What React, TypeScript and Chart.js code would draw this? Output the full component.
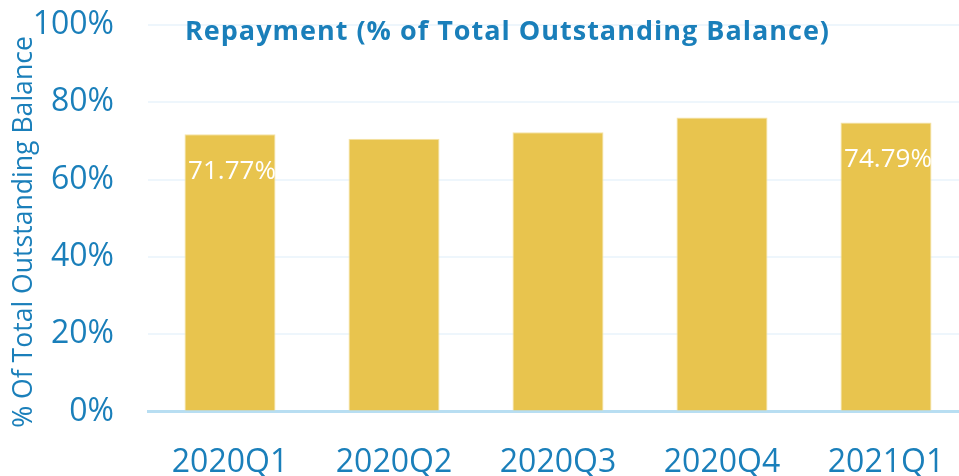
import React, { useEffect, useRef } from 'react';
import { Chart, registerables } from 'chart.js';
Chart.register(...registerables);

const categories = ['2020Q1', '2020Q2', '2020Q3', '2020Q4', '2021Q1'];
const repayment = [71.77, 70.55, 72.29, 76.07, 74.79];
const showValueLabel = [true, false, false, false, true];
const yTickStep = 20;
const yMin = 0;
const yMax = 100;
const chartTitle = 'Repayment (% of Total Outstanding Balance)';
const yAxisTitle = '% Of Total Outstanding Balance';

const BLUE = '#1a7fba';
const FONT = '"Open Sans", sans-serif';

const overlay = {
  id: 'overlay',
  afterDatasetsDraw(chart: any) {
    const { ctx, chartArea } = chart;
    const meta = chart.getDatasetMeta(0);
    ctx.save();
    ctx.fillStyle = '#ffffff';
    ctx.font = `26px ${FONT}`;
    ctx.textAlign = 'center';
    ctx.textBaseline = 'alphabetic';
    meta.data.forEach((el: any, i: number) => {
      if (!showValueLabel[i]) return;
      ctx.fillText(repayment[i].toFixed(2) + '%', el.x + 2, el.y + 45);
    });
    ctx.fillStyle = BLUE;
    ctx.font = `bold 27px ${FONT}`;
    ctx.textAlign = 'left';
    try { (ctx as any).letterSpacing = '1px'; } catch (e) {}
    ctx.fillText(chartTitle, chartArea.left + 37, 40);
    try { (ctx as any).letterSpacing = '0px'; } catch (e) {}
    ctx.translate(24, 232);
    ctx.rotate(-Math.PI / 2);
    ctx.textAlign = 'center';
    ctx.textBaseline = 'middle';
    ctx.font = `26.6px ${FONT}`;
    ctx.fillText(yAxisTitle, 0, 0);
    ctx.restore();
  },
};

export default function App() {
  const ref = useRef<HTMLCanvasElement>(null);
  useEffect(() => {
    const chart = new Chart(ref.current!, {
      type: 'bar',
      data: {
        labels: categories,
        datasets: [
          {
            data: repayment,
            backgroundColor: '#e8c44e',
            borderColor: '#f5e3a6',
            borderWidth: 1,
            barPercentage: 0.555,
            categoryPercentage: 1,
          },
        ],
      },
      options: {
        responsive: false,
        animation: false,
        layout: { padding: { top: 25, left: 0, right: 0, bottom: 0 } },
        plugins: { legend: { display: false }, tooltip: { enabled: false }, title: { display: false } },
        scales: {
          x: {
            grid: { display: false, drawTicks: false },
            border: { display: true, color: '#b8def2', width: 3 },
            ticks: { color: BLUE, font: { family: FONT, size: 32 }, padding: 32, maxRotation: 0 },
            afterFit: (s: any) => { s.height = 64.4; s.paddingLeft = 0; s.paddingRight = 0; },
          },
          y: {
            min: yMin,
            max: yMax,
            grid: { color: '#eef6fc', lineWidth: 2, drawTicks: false },
            border: { display: false },
            ticks: {
              stepSize: yTickStep,
              color: BLUE,
              font: { family: FONT, size: 32 },
              padding: 34,
              callback: (v: any) => v + '%',
            },
            afterFit: (s: any) => { s.width = 148; s.paddingTop = 0; s.paddingBottom = 0; },
          },
        },
      },
      plugins: [overlay],
    });
    return () => chart.destroy();
  }, []);
  return (
    <div style={{ position: 'fixed', left: 0, top: 0, width: 959, height: 476, overflow: 'hidden', background: '#fff' }}>
      <canvas ref={ref} width={968} height={476} style={{ display: 'block' }} />
    </div>
  );
}
